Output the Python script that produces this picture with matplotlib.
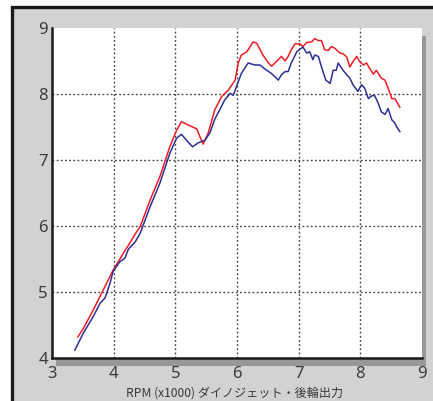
import matplotlib.pyplot as plt
from matplotlib.patches import Rectangle

# rear wheel output, RPM x1000 vs value
red_rpm = [3.42, 3.51, 3.67, 3.83, 3.99, 4.16, 4.26, 4.37, 4.43, 4.59, 4.75, 4.91, 5.02, 5.10,
           5.21, 5.35, 5.40, 5.45, 5.53, 5.64, 5.75, 5.86, 5.97, 6.02, 6.07, 6.16, 6.26, 6.32,
           6.42, 6.51, 6.56, 6.67, 6.72, 6.78, 6.83, 6.88, 6.94, 7.02, 7.07, 7.13, 7.21, 7.26,
           7.32, 7.37, 7.42, 7.48, 7.53, 7.59, 7.67, 7.72, 7.78, 7.83, 7.88, 7.94, 7.99, 8.05,
           8.10, 8.15, 8.21, 8.26, 8.34, 8.40, 8.45, 8.51, 8.56, 8.64]
red_val = [4.32, 4.45, 4.73, 5.03, 5.33, 5.59, 5.74, 5.91, 5.99, 6.39, 6.75, 7.20, 7.45, 7.58,
           7.53, 7.47, 7.35, 7.24, 7.40, 7.76, 7.96, 8.06, 8.21, 8.47, 8.59, 8.64, 8.79, 8.77,
           8.59, 8.47, 8.42, 8.52, 8.57, 8.50, 8.57, 8.67, 8.76, 8.76, 8.72, 8.78, 8.79, 8.84,
           8.81, 8.81, 8.67, 8.66, 8.72, 8.69, 8.62, 8.61, 8.56, 8.41, 8.49, 8.57, 8.49, 8.44,
           8.47, 8.39, 8.30, 8.36, 8.24, 8.21, 8.09, 7.93, 7.93, 7.80]

blue_rpm = [3.37, 3.51, 3.67, 3.78, 3.86, 3.94, 3.99, 4.10, 4.18, 4.24, 4.35, 4.43, 4.59, 4.75,
            4.91, 5.02, 5.10, 5.18, 5.28, 5.37, 5.48, 5.56, 5.64, 5.72, 5.80, 5.89, 5.94, 5.99,
            6.07, 6.18, 6.29, 6.37, 6.48, 6.56, 6.67, 6.72, 6.78, 6.83, 6.88, 6.97, 7.02, 7.07,
            7.13, 7.18, 7.23, 7.26, 7.32, 7.37, 7.44, 7.51, 7.56, 7.61, 7.64, 7.72, 7.78, 7.83,
            7.88, 7.96, 8.02, 8.07, 8.13, 8.18, 8.23, 8.29, 8.34, 8.40, 8.45, 8.51, 8.56, 8.59, 8.64]
blue_val = [4.12, 4.38, 4.63, 4.83, 4.91, 5.13, 5.31, 5.46, 5.51, 5.65, 5.76, 5.89, 6.29, 6.65,
            7.10, 7.33, 7.39, 7.30, 7.20, 7.26, 7.30, 7.41, 7.62, 7.76, 7.91, 8.01, 7.98, 8.11,
            8.31, 8.47, 8.44, 8.44, 8.36, 8.31, 8.21, 8.29, 8.34, 8.34, 8.47, 8.64, 8.68, 8.71,
            8.62, 8.64, 8.52, 8.59, 8.57, 8.41, 8.21, 8.16, 8.36, 8.36, 8.47, 8.36, 8.29, 8.24,
            8.14, 8.04, 8.14, 8.09, 7.93, 7.97, 7.98, 7.86, 7.73, 7.69, 7.78, 7.61, 7.56, 7.50, 7.43]

x_ticks = [3, 4, 5, 6, 7, 8, 9]
y_ticks = [4, 5, 6, 7, 8, 9]
x_label = 'RPM (x1000) ダイノジェット・後輪出力'

W, H = 433, 401
fig = plt.figure(figsize=(W / 100, H / 100), dpi=100, facecolor='white')

# gray panel with black frame (top / left visible)
fig.patches.append(Rectangle((12 / W, -0.1), 1.2, 1 - 7 / H + 0.1, transform=fig.transFigure,
                             facecolor='#d1d2d4', edgecolor='#1a1a1a', lw=2.4, zorder=-2))
# drop shadow of the plot area
fig.patches.append(Rectangle((56 / W, 1 - 366 / H), 370 / W, 330 / H, transform=fig.transFigure,
                             facecolor='#98989a', edgecolor='none', zorder=-1))

ax = fig.add_axes([52 / W, 1 - 358 / H, 370 / W, 330 / H])
ax.set_facecolor('white')
ax.set_xlim(3, 9)
ax.set_ylim(4, 9)

for x in x_ticks[1:-1]:
    ax.axvline(x, color='#444444', lw=1.0, ls=(0, (1.3, 1.7)), zorder=1)
for y in y_ticks[1:-1]:
    ax.axhline(y, color='#444444', lw=1.0, ls=(0, (1.3, 1.7)), zorder=1)

ax.plot(red_rpm, red_val, color='#ee1c25', lw=1.1, zorder=3)
ax.plot(blue_rpm, blue_val, color='#2e3192', lw=1.1, zorder=3)

for s in ['top', 'right']:
    ax.spines[s].set_visible(False)
for s in ['left', 'bottom']:
    ax.spines[s].set_color('#1a1a1a')
    ax.spines[s].set_linewidth(1.8)

ax.set_xticks(x_ticks)
ax.set_yticks(y_ticks)
ax.tick_params(axis='both', length=0, labelsize=12, labelcolor='#3a3a3a')
ax.tick_params(axis='x', pad=6)
ax.tick_params(axis='y', pad=3)
for lab in ax.get_xticklabels() + ax.get_yticklabels():
    lab.set_family('Noto Sans')

fig.text(235 / W, 1 - 393 / H, x_label, ha='center', va='center', fontsize=8.7,
         color='#3a3a3a', family=['Noto Sans CJK JP', 'DejaVu Sans'])

plt.savefig('out.png', dpi=100)
